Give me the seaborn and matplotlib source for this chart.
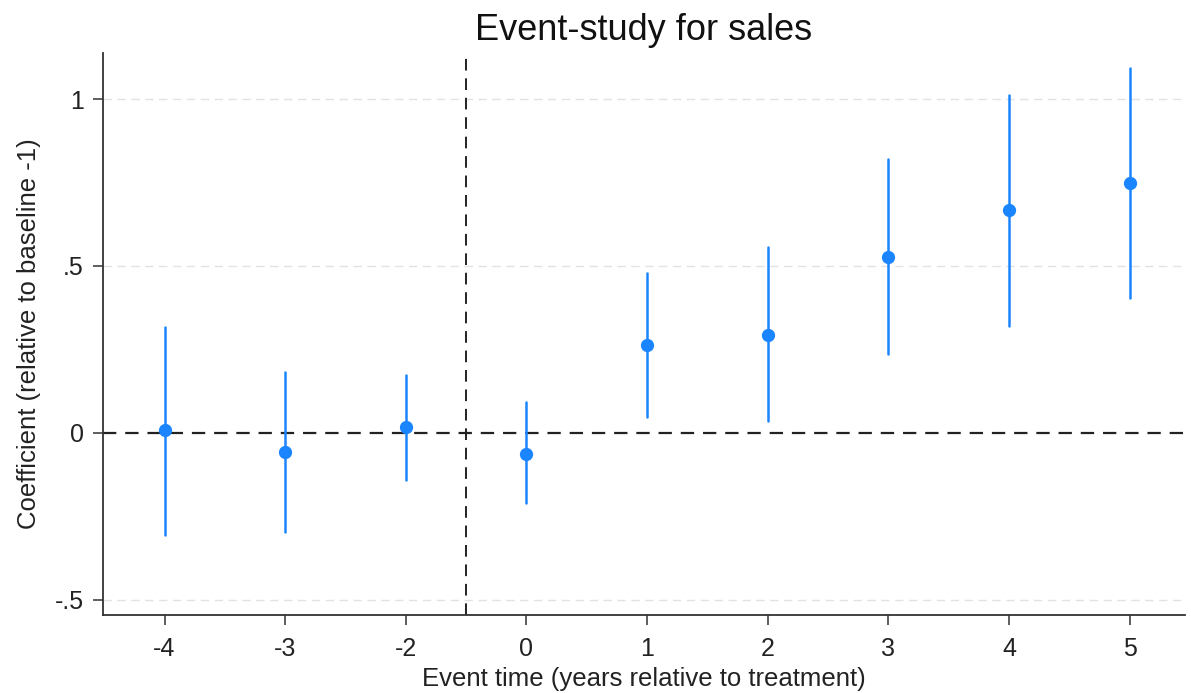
import numpy as np
import pandas as pd
import matplotlib
matplotlib.use("Agg")
import matplotlib.pyplot as plt
import seaborn as sns

# Data
event_time = ["-4", "-3", "-2", "0", "1", "2", "3", "4", "5"]
coef = [0.010, -0.057, 0.018, -0.063, 0.264, 0.294, 0.528, 0.667, 0.748]
ci_low = [-0.306, -0.297, -0.141, -0.210, 0.048, 0.036, 0.237, 0.321, 0.405]
ci_high = [0.318, 0.183, 0.174, 0.093, 0.480, 0.558, 0.820, 1.012, 1.093]
y_ticks = [-0.5, 0, 0.5, 1]
y_tick_labels = ["-.5", "0", ".5", "1"]

sns.set_theme(style="white")
plt.rcParams["font.family"] = ["Liberation Sans", "DejaVu Sans"]

# long table: low / estimate / high per event time; median = estimate, full range = CI
df = pd.DataFrame({
    "event": event_time * 3,
    "value": ci_low + coef + ci_high,
})

fig = plt.figure(figsize=(11.91, 6.93), dpi=100)
ax = fig.add_axes([0.0865, 0.1126, 0.9085, 0.811])

blue = "#1a85ff"
sns.pointplot(data=df, x="event", y="value", order=event_time,
              estimator="median", errorbar=("pi", 100),
              linestyle="none", color=blue, markersize=7.5,
              err_kws={"linewidth": 1.8}, ax=ax)

ax.set_ylim(-0.545, 1.138)
ax.set_xlim(-0.51, 8.46)
ax.set_yticks(y_ticks)
ax.set_yticklabels(y_tick_labels)

for yv in [1, 0.5, -0.5]:
    ax.axhline(yv, color="#e2e2e2", linestyle=(0, (6, 4)), linewidth=1.0, zorder=0)
ax.axhline(0, color="#222222", linestyle=(0, (6, 4)), linewidth=1.6, zorder=1)
ax.axvline(2.5, color="#222222", linestyle=(0, (6, 4)), linewidth=1.4, zorder=1)

for s in ["top", "right"]:
    ax.spines[s].set_visible(False)
for s in ["left", "bottom"]:
    ax.spines[s].set_color("#333333")
    ax.spines[s].set_linewidth(1.3)

ax.tick_params(axis="both", which="major", direction="out", length=7, width=1.1,
               color="#333333", labelsize=18, labelcolor="#222222",
               left=True, bottom=True, pad=7)
ax.tick_params(axis="x", pad=9)

ax.set_title("Event-study for sales", fontsize=26, color="#111111", pad=9)
ax.set_xlabel("Event time (years relative to treatment)", fontsize=18.5, color="#222222", labelpad=4)
ax.set_ylabel("Coefficient (relative to baseline -1)", fontsize=18.5, color="#222222", labelpad=10)

fig.savefig("out.png", dpi=100, facecolor="white")
